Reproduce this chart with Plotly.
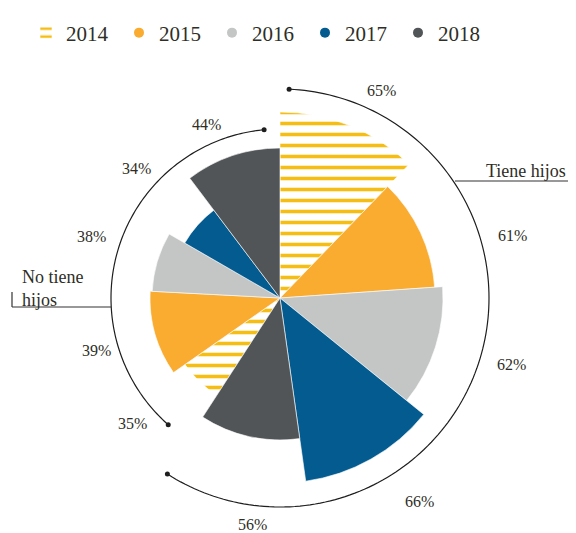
import plotly.graph_objects as go
import numpy as np

anios = ["2014", "2015", "2016", "2017", "2018"]
colores = ["#F6BD12", "#F9AC30", "#C4C6C5", "#035B8F", "#515557"]

# porcentaje por año
tiene_hijos = [65, 61, 62, 66, 56]
no_tiene_hijos = [35, 39, 38, 34, 44]

# largo de cada sector tal como está dibujado (el original no está a escala)
largo_tiene = [186, 155, 163, 185, 142]
largo_no_tiene = [116, 130, 128, 110, 150]

# apertura de cada sector en grados
ancho_tiene = [44, 42, 43, 43, 41]
ancho_no_tiene = [22, 38, 27, 23, 37]

# la página del navegador deja 8 px de margen en el body
OFF = 8
W, H = 576 - OFF, 533 - OFF
CX, CY = 280, 298          # centro del gráfico en la página
R_MAX = 235

bordes = np.cumsum([0] + ancho_tiene + ancho_no_tiene)
centros = (bordes[:-1] + bordes[1:]) / 2

# posición de las etiquetas de porcentaje (radio, ángulo)
etiq_r = [231, 241, 241, 247, 228, 194, 191, 198, 193, 189]
etiq_theta = [26, 75, 106, 145.5, 187, 229.6, 254, 288, 312, 337]

TEXTO = "#2E2E26"
FUENTE = "Liberation Serif"


def px(x, y):
    # píxel de la página -> coordenadas paper
    return (x - OFF) / W, 1 - (y - OFF) / H


fig = go.Figure()

for i, anio in enumerate(anios):
    marker = dict(color=colores[i], line=dict(color="white", width=0.6))
    if i == 0:
        marker["pattern"] = dict(shape="-", fgcolor=colores[i], bgcolor="white",
                                 fgopacity=1, size=11, solidity=0.32)
    fig.add_trace(go.Barpolar(
        r=[largo_tiene[i], largo_no_tiene[i]],
        theta=[centros[i], centros[i + 5]],
        width=[ancho_tiene[i], ancho_no_tiene[i]],
        marker=marker,
        name=anio,
        showlegend=(i == 0),
        hoverinfo="skip",
    ))

# entradas de leyenda con círculo
for i, anio in enumerate(anios[1:], start=1):
    fig.add_trace(go.Scatterpolar(
        r=[None], theta=[None], mode="markers", name=anio,
        marker=dict(symbol="circle", size=10, color=colores[i]),
    ))

# arcos de grupo
arcos = [(209, 2.5, 212.6), (169, 221.4, 354.6)]
for radio, t0, t1 in arcos:
    th = np.linspace(t0, t1, 150)
    fig.add_trace(go.Scatterpolar(
        r=[radio] * len(th), theta=th, mode="lines",
        line=dict(color="#1E1E1E", width=1.2),
        showlegend=False, hoverinfo="skip",
    ))
    fig.add_trace(go.Scatterpolar(
        r=[radio, radio], theta=[t0, t1], mode="markers",
        marker=dict(color="#1E1E1E", size=5),
        showlegend=False, hoverinfo="skip",
    ))

# etiquetas de porcentaje (quedan fuera del círculo del eje)
for v, r, t in zip(tiene_hijos + no_tiene_hijos, etiq_r, etiq_theta):
    a, b = px(CX + r * np.sin(np.radians(t)), CY - r * np.cos(np.radians(t)))
    fig.add_annotation(x=a, y=b, xref="paper", yref="paper", text=f"{v}%",
                       showarrow=False, xanchor="center", yanchor="middle",
                       font=dict(family=FUENTE, size=16, color=TEXTO))

d0, d1 = px(CX - R_MAX, CY + R_MAX)
e0, e1 = px(CX + R_MAX, CY - R_MAX)
lx, ly = px(26, 33)
fig.update_layout(
    width=W, height=H,
    margin=dict(l=0, r=0, t=0, b=0),
    paper_bgcolor="white",
    font=dict(family=FUENTE, color=TEXTO),
    polar=dict(
        domain=dict(x=[d0, e0], y=[max(d1, 0), min(e1, 1)]),
        bgcolor="white",
        radialaxis=dict(visible=False, range=[0, R_MAX]),
        angularaxis=dict(visible=False, direction="clockwise", rotation=90),
    ),
    legend=dict(
        orientation="h", x=lx, xanchor="left", y=ly, yanchor="middle",
        font=dict(family=FUENTE, size=21, color=TEXTO),
        entrywidth=48, itemwidth=30,
    ),
)

# corchetes de los rótulos de grupo
lineas = [
    ((455, 181), (574, 181)), ((574, 181), (574, 166)),
    ((12, 307), (111, 307)), ((12, 307), (12, 292)),
]
for (x0, y0), (x1, y1) in lineas:
    a, b = px(x0, y0)
    c, e = px(x1, y1)
    fig.add_shape(type="line", xref="paper", yref="paper", x0=a, y0=b, x1=c, y1=e,
                  line=dict(color="#333333", width=1.2))

ax, ay = px(568, 171)
fig.add_annotation(x=ax, y=ay, xref="paper", yref="paper", text="Tiene hijos",
                   showarrow=False, xanchor="right", yanchor="middle",
                   font=dict(family=FUENTE, size=18, color=TEXTO))
ax, ay = px(20, 288)
fig.add_annotation(x=ax, y=ay, xref="paper", yref="paper", text="No tiene<br>hijos",
                   showarrow=False, xanchor="left", yanchor="middle", align="left",
                   font=dict(family=FUENTE, size=18, color=TEXTO))

fig.write_html("out.html")
